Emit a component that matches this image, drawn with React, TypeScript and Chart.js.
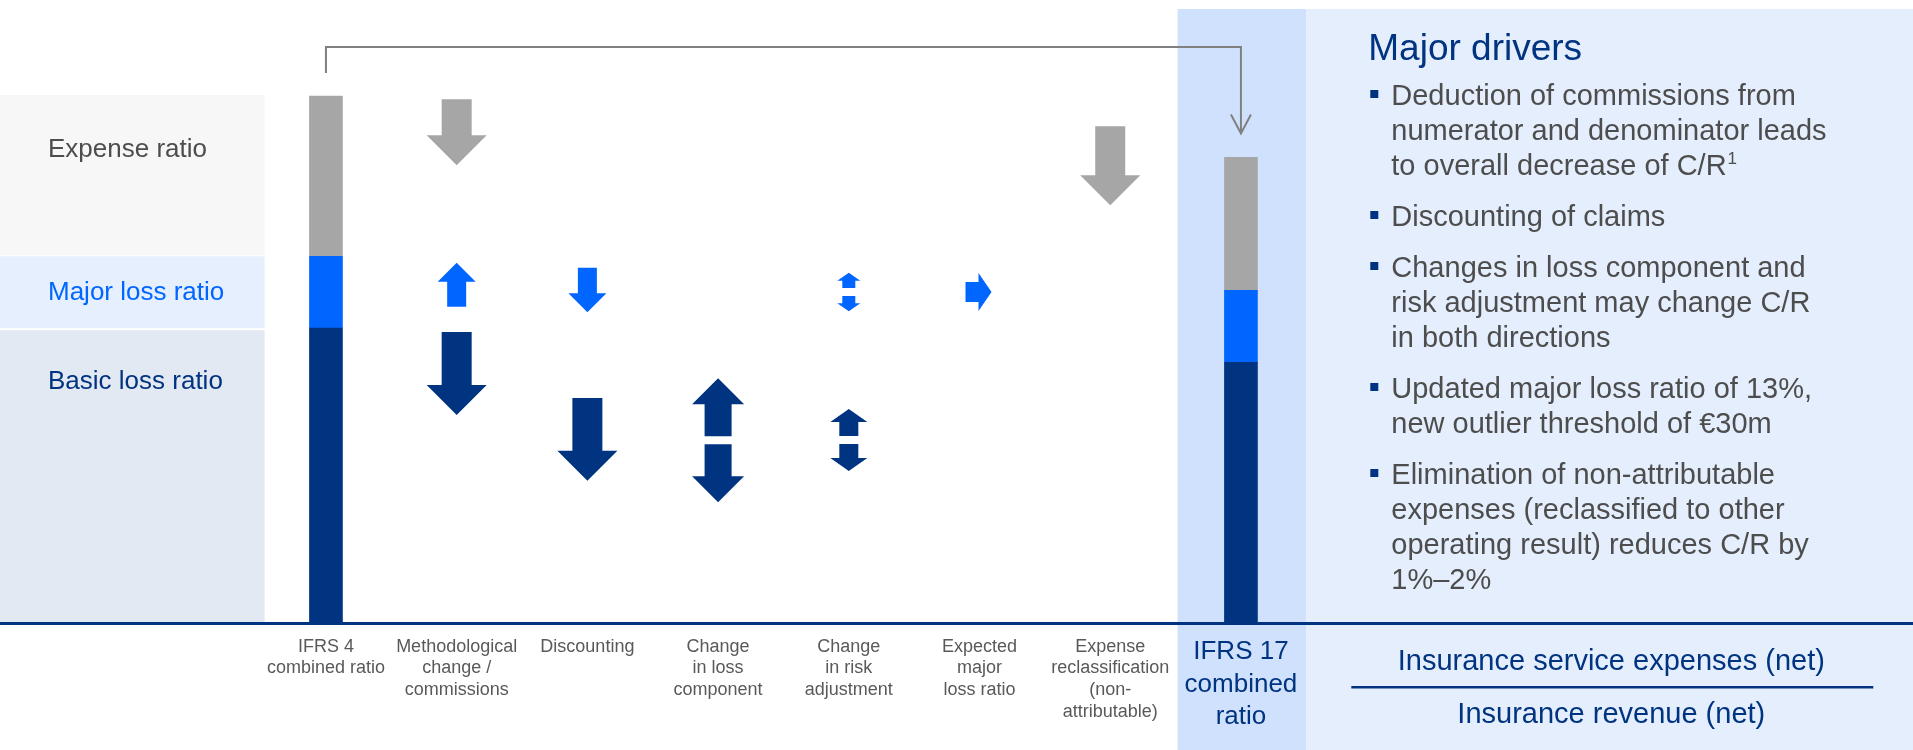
import React, { useEffect, useRef } from "react";
import { Chart, registerables } from "chart.js";

Chart.register(...registerables);

const FONT = "'Liberation Sans', Arial, Helvetica, sans-serif";
const NAVY = "#003380";
const BLUE = "#0066ff";
const GREY = "#a6a6a6";
const TEXT_GREY = "#4d4d4d";
const LABEL_GREY = "#595959";

// ---- data ----
const categories: string[][] = [
  ["IFRS 4", "combined ratio"],
  ["Methodological", "change /", "commissions"],
  ["Discounting"],
  ["Change", "in loss", "component"],
  ["Change", "in risk", "adjustment"],
  ["Expected", "major", "loss ratio"],
  ["Expense", "reclassification", "(non-", "attributable)"],
  ["IFRS 17", "combined", "ratio"],
];

const basicLossRatio = [53.7, null, null, null, null, null, null, 47.5];
const majorLossRatio = [13.1, null, null, null, null, null, null, 13.1];
const expenseRatio = [29.2, null, null, null, null, null, null, 24.2];

const rowLabels = ["Expense ratio", "Major loss ratio", "Basic loss ratio"];

// arrows: category index, ratio component, direction, from value, to value (tip)
const arrowCategory = [1, 1, 1, 2, 2, 3, 4, 4, 5, 6];
const arrowSeries = ["expense", "major", "basic", "major", "basic", "basic", "major", "basic", "major", "expense"];
const arrowDirection = ["down", "up", "down", "down", "down", "both", "both", "both", "right", "down"];
const arrowFrom = [95.4, 57.6, 53.0, 64.7, 41.0, 44.6, 63.8, 39.0, 60.3, 90.5];
const arrowTo = [83.4, 65.6, 37.9, 56.6, 25.9, 22.0, 56.8, 27.7, 60.3, 76.1];
const arrowSize = ["L", "M", "L", "M", "L", "D", "XS", "S", "R", "L"];

const driversTitle = "Major drivers";
const driverBullets: string[][] = [
  ["Deduction of commissions from", "numerator and denominator leads", "to overall decrease of C/R^1"],
  ["Discounting of claims"],
  ["Changes in loss component and", "risk adjustment may change C/R", "in both directions"],
  ["Updated major loss ratio of 13%,", "new outlier threshold of €30m"],
  ["Elimination of non-attributable", "expenses (reclassified to other", "operating result) reduces C/R by", "1%–2%"],
];
const formulaNumerator = "Insurance service expenses (net)";
const formulaDenominator = "Insurance revenue (net)";

// ---- styles ----
const SERIES_COLOR: Record<string, string> = { expense: GREY, major: BLUE, basic: NAVY };
const ARROW_SIZES: Record<string, { head: number; shaft: number; len: number }> = {
  L: { head: 60, shaft: 30, len: 30 },
  M: { head: 38, shaft: 19, len: 19 },
  D: { head: 52, shaft: 27, len: 26 },
  S: { head: 37, shaft: 19, len: 13 },
  XS: { head: 23, shaft: 13, len: 8 },
  R: { head: 38, shaft: 20, len: 13 },
};

function drawVArrow(ctx: CanvasRenderingContext2D, cx: number, yStart: number, yTip: number, s: { head: number; shaft: number; len: number }) {
  const dir = yTip > yStart ? 1 : -1;
  const yBase = yTip - dir * s.len;
  ctx.beginPath();
  ctx.moveTo(cx - s.shaft / 2, yStart);
  ctx.lineTo(cx + s.shaft / 2, yStart);
  ctx.lineTo(cx + s.shaft / 2, yBase);
  ctx.lineTo(cx + s.head / 2, yBase);
  ctx.lineTo(cx, yTip);
  ctx.lineTo(cx - s.head / 2, yBase);
  ctx.lineTo(cx - s.shaft / 2, yBase);
  ctx.closePath();
  ctx.fill();
}

function drawHArrow(ctx: CanvasRenderingContext2D, xStart: number, xTip: number, cy: number, s: { head: number; shaft: number; len: number }) {
  const xBase = xTip - s.len;
  ctx.beginPath();
  ctx.moveTo(xStart, cy - s.shaft / 2);
  ctx.lineTo(xBase, cy - s.shaft / 2);
  ctx.lineTo(xBase, cy - s.head / 2);
  ctx.lineTo(xTip, cy);
  ctx.lineTo(xBase, cy + s.head / 2);
  ctx.lineTo(xBase, cy + s.shaft / 2);
  ctx.lineTo(xStart, cy + s.shaft / 2);
  ctx.closePath();
  ctx.fill();
}

const decorPlugin = {
  id: "decor",
  beforeDraw(chart: any) {
    const { ctx, chartArea } = chart;
    const x = chart.scales.x;
    const y = chart.scales.y;
    const slot = x.getPixelForValue(1) - x.getPixelForValue(0);
    const last = categories.length - 1;
    const bandL = x.getPixelForValue(last) - slot / 2 + 2;
    const bandR = x.getPixelForValue(last) + slot / 2;
    ctx.save();
    ctx.fillStyle = "#ffffff";
    ctx.fillRect(0, 0, chart.width, chart.height);
    ctx.fillStyle = "#cfe1fc";
    ctx.fillRect(bandL, 9, bandR - bandL, chart.height - 9);
    ctx.fillStyle = "#e4eefd";
    ctx.fillRect(bandR, 9, chart.width - bandR, chart.height - 9);

    const b = basicLossRatio[0] as number;
    const m = majorLossRatio[0] as number;
    const e = expenseRatio[0] as number;
    const yTop = y.getPixelForValue(b + m + e);
    const yEM = y.getPixelForValue(b + m);
    const yMB = y.getPixelForValue(b);
    const y0 = y.getPixelForValue(0);
    const leftR = chartArea.left + 4;
    ctx.fillStyle = "#f7f7f7";
    ctx.fillRect(0, yTop - 1, leftR, yEM - yTop);
    ctx.fillStyle = "#e5effd";
    ctx.fillRect(0, yEM, leftR, yMB - yEM);
    ctx.fillStyle = "#e3e9f2";
    ctx.fillRect(0, yMB + 2, leftR, y0 - yMB - 2);
    ctx.restore();
  },
  afterDatasetsDraw(chart: any) {
    const { ctx, chartArea } = chart;
    const x = chart.scales.x;
    const y = chart.scales.y;
    const slot = x.getPixelForValue(1) - x.getPixelForValue(0);
    const last = categories.length - 1;
    const bandR = x.getPixelForValue(last) + slot / 2;
    const y0 = y.getPixelForValue(0);
    ctx.save();

    // baseline
    ctx.fillStyle = NAVY;
    ctx.fillRect(0, y0 - 1, chart.width, 3);

    // arrows
    for (let i = 0; i < arrowCategory.length; i++) {
      const cx = x.getPixelForValue(arrowCategory[i]);
      const s = ARROW_SIZES[arrowSize[i]];
      ctx.fillStyle = SERIES_COLOR[arrowSeries[i]];
      const yf = y.getPixelForValue(arrowFrom[i]);
      const yt = y.getPixelForValue(arrowTo[i]);
      const d = arrowDirection[i];
      if (d === "down" || d === "up") {
        drawVArrow(ctx, cx, yf, yt, s);
      } else if (d === "both") {
        const mid = (yf + yt) / 2;
        drawVArrow(ctx, cx, mid - 4, yf, s);
        drawVArrow(ctx, cx, mid + 4, yt, s);
      } else if (d === "right") {
        drawHArrow(ctx, cx - 14, cx + 12, yf, s);
      }
    }

    // connector IFRS 4 -> IFRS 17
    const x0 = x.getPixelForValue(0);
    const x7 = x.getPixelForValue(last);
    const t4 = (basicLossRatio[0] as number) + (majorLossRatio[0] as number) + (expenseRatio[0] as number);
    const t17 = (basicLossRatio[last] as number) + (majorLossRatio[last] as number) + (expenseRatio[last] as number);
    const yStart = y.getPixelForValue(t4) - 23;
    const yLine = chartArea.top - 27;
    const yEnd = y.getPixelForValue(t17) - 24;
    ctx.strokeStyle = "#808080";
    ctx.lineWidth = 2;
    ctx.lineJoin = "miter";
    ctx.beginPath();
    ctx.moveTo(x0, yStart);
    ctx.lineTo(x0, yLine);
    ctx.lineTo(x7, yLine);
    ctx.lineTo(x7, yEnd);
    ctx.stroke();
    ctx.beginPath();
    ctx.moveTo(x7 - 10, yEnd - 19);
    ctx.lineTo(x7, yEnd);
    ctx.lineTo(x7 + 10, yEnd - 19);
    ctx.stroke();

    // row labels
    const b = basicLossRatio[0] as number;
    const m = majorLossRatio[0] as number;
    const yTop = y.getPixelForValue(t4);
    const yEM = y.getPixelForValue(b + m);
    const yMB = y.getPixelForValue(b);
    ctx.font = `26px ${FONT}`;
    ctx.textBaseline = "alphabetic";
    ctx.textAlign = "left";
    ctx.fillStyle = TEXT_GREY;
    ctx.fillText(rowLabels[0], 48, yTop + 61);
    ctx.fillStyle = BLUE;
    ctx.fillText(rowLabels[1], 48, yEM + 44);
    ctx.fillStyle = NAVY;
    ctx.fillText(rowLabels[2], 48, yMB + 61);

    // right panel
    ctx.fillStyle = NAVY;
    ctx.font = `37px ${FONT}`;
    ctx.fillText(driversTitle, bandR + 62, 60);

    ctx.font = `29px ${FONT}`;
    let base = 105;
    driverBullets.forEach((para, pi) => {
      if (pi > 0) base += 16;
      ctx.fillStyle = NAVY;
      ctx.fillRect(bandR + 64, base - 15, 8, 8);
      para.forEach((line, li) => {
        ctx.fillStyle = TEXT_GREY;
        ctx.font = `29px ${FONT}`;
        const tx = bandR + 85;
        if (line.includes("^")) {
          const [main, sup] = line.split("^");
          ctx.fillText(main, tx, base);
          const w = ctx.measureText(main).width;
          ctx.font = `17px ${FONT}`;
          ctx.fillText(sup, tx + w + 1, base - 11);
          ctx.font = `29px ${FONT}`;
        } else {
          ctx.fillText(line, tx, base);
        }
        if (li < para.length - 1) base += 35;
      });
      base += 35;
    });

    // formula
    const fx = bandR + 305;
    ctx.textAlign = "center";
    ctx.fillStyle = NAVY;
    ctx.font = `29px ${FONT}`;
    ctx.fillText(formulaNumerator, fx, 670);
    ctx.fillRect(bandR + 45, 686, 522, 2.5);
    ctx.fillText(formulaDenominator, fx, 723);

    ctx.restore();
  },
};

export default function App() {
  const ref = useRef<HTMLCanvasElement | null>(null);

  useEffect(() => {
    if (!ref.current) return;
    const last = categories.length - 1;
    const chart = new Chart(ref.current, {
      type: "bar",
      data: {
        labels: categories,
        datasets: [
          { label: "Basic loss ratio", data: basicLossRatio, backgroundColor: NAVY, barThickness: 33 },
          { label: "Major loss ratio", data: majorLossRatio, backgroundColor: BLUE, barThickness: 33 },
          { label: "Expense ratio", data: expenseRatio, backgroundColor: GREY, barThickness: 33 },
        ],
      },
      options: {
        animation: false,
        responsive: false,
        events: [],
        layout: { padding: { left: 260.6, right: 606.7, top: 74, bottom: 0 } },
        plugins: { legend: { display: false }, tooltip: { enabled: false } },
        scales: {
          x: {
            stacked: true,
            offset: true,
            grid: { display: false, drawTicks: false },
            border: { display: false },
            afterFit: (scale: any) => {
              scale.height = 127;
            },
            ticks: {
              autoSkip: false,
              maxRotation: 0,
              minRotation: 0,
              padding: 13,
              color: (c: any) => (c.index === last ? NAVY : LABEL_GREY),
              font: (c: any) =>
                c.index === last
                  ? { family: FONT, size: 26, lineHeight: 1.25 }
                  : { family: FONT, size: 18, lineHeight: 1.2 },
            },
          },
          y: {
            stacked: true,
            display: false,
            min: 0,
            max: 100,
          },
        },
      },
      plugins: [decorPlugin],
    } as any);
    return () => chart.destroy();
  }, []);

  return (
    <div style={{ position: "absolute", left: 0, top: 0, width: 1913, height: 750 }}>
      <canvas ref={ref} width={1913} height={750} style={{ width: 1913, height: 750, display: "block" }} />
    </div>
  );
}
